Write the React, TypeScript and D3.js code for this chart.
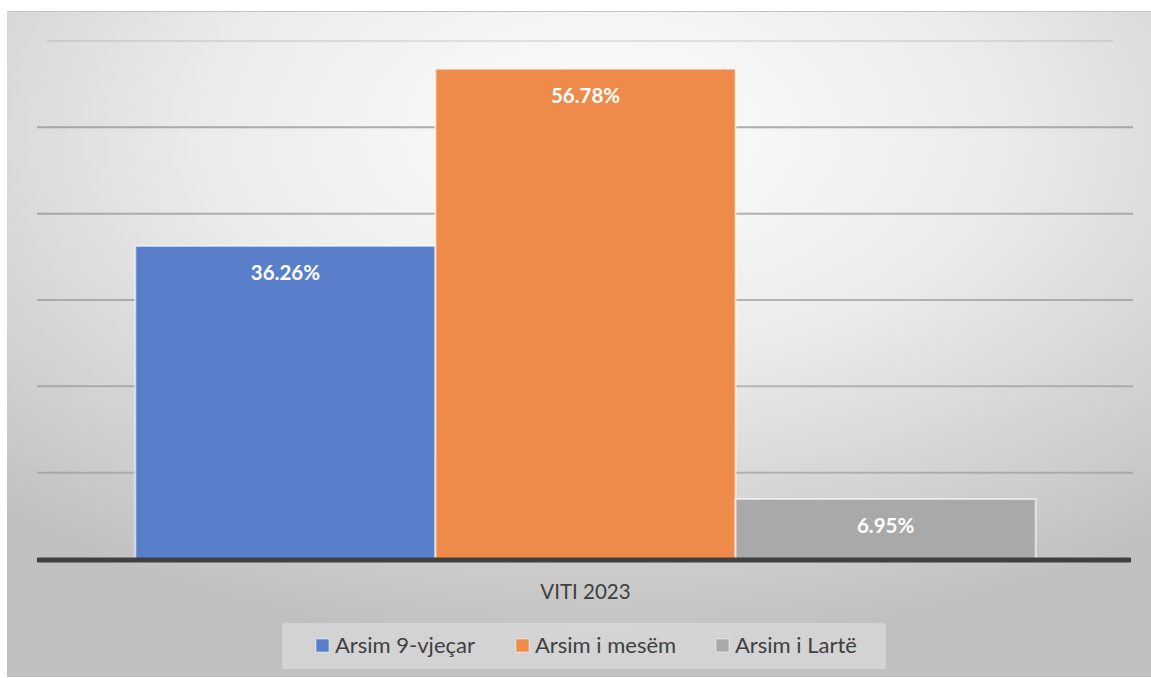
import * as d3 from 'd3';

const categories = ['VITI 2023'];
const seriesNames = ['Arsim 9-vjeçar', 'Arsim i mesëm', 'Arsim i Lartë'];
const seriesValues = [36.26, 56.78, 6.95];
const seriesColors = ['#5a7fca', '#ef8b4a', '#a9a9a9'];
const gridTicks = [10, 20, 30, 40, 50, 60];

const width = 1151;
const height = 678;
const margins = { top: 41, right: 20, bottom: 119, left: 37 };
const font = 'Lato, "Open Sans", "Liberation Sans", sans-serif';

const App = () => {
    const plotRight = width - margins.right;
    const plotBottom = height - margins.bottom;

    const yScale = d3.scaleLinear()
        .domain([0, 60])
        .range([plotBottom, margins.top]);

    const x0 = d3.scaleBand()
        .domain(categories)
        .range([margins.left + 2, plotRight + 1])
        .paddingInner(0)
        .paddingOuter(0.107);

    const x1 = d3.scaleBand()
        .domain(seriesNames)
        .range([0, x0.bandwidth()])
        .padding(0);

    const legendX = d3.scalePoint()
        .domain(seriesNames)
        .range([316, 716]);

    const data = seriesNames.map((name, i) => ({
        name,
        value: seriesValues[i],
        color: seriesColors[i],
        category: categories[0],
    }));

    return (
        <svg width={width} height={height} style={{ position: 'absolute', left: 0, top: 0 }}>
            <defs>
                <radialGradient id="bg" cx="0.52" cy="0.18" r="0.78" fx="0.52" fy="0.18">
                    <stop offset="0" stopColor="#fefefe" />
                    <stop offset="0.45" stopColor="#ebebeb" />
                    <stop offset="1" stopColor="#c0c0c0" />
                </radialGradient>
            </defs>
            <rect x={0} y={0} width={width} height={height} fill="#ffffff" />
            <rect x={7} y={11} width={width - 7} height={666} fill="url(#bg)" />
            <line x1={7} x2={width} y1={11.5} y2={11.5} stroke="#c4c4c4" strokeWidth={1} />

            {gridTicks.map((t, i) => (
                <line
                    key={t}
                    x1={t === 60 ? margins.left + 10 : margins.left}
                    x2={t === 60 ? plotRight - 18 : plotRight + 2}
                    y1={yScale(t)}
                    y2={yScale(t)}
                    stroke="#888888"
                    strokeOpacity={t === 60 ? 0.2 : 0.5 + i * 0.04}
                    strokeWidth={2}
                />
            ))}

            {data.map(d => (
                <rect
                    key={d.name}
                    x={(x0(d.category) ?? 0) + (x1(d.name) ?? 0)}
                    y={yScale(d.value)}
                    width={x1.bandwidth()}
                    height={plotBottom - yScale(d.value)}
                    fill={d.color}
                    stroke="#ffffff"
                    strokeOpacity={0.6}
                    strokeWidth={2}
                />
            ))}

            {data.map(d => (
                <text
                    key={d.name + '-label'}
                    x={(x0(d.category) ?? 0) + (x1(d.name) ?? 0) + x1.bandwidth() / 2}
                    y={yScale(d.value) + 34}
                    textAnchor="middle"
                    fill="#ffffff"
                    fontFamily={font}
                    fontWeight="bold"
                    fontSize={20.5}
                >
                    {d.value.toFixed(2) + '%'}
                </text>
            ))}

            <line
                x1={margins.left}
                x2={plotRight}
                y1={plotBottom + 1}
                y2={plotBottom + 1}
                stroke="#404040"
                strokeWidth={5}
            />

            {categories.map(c => (
                <text
                    key={c}
                    x={(x0(c) ?? 0) + x0.bandwidth() / 2}
                    y={599}
                    textAnchor="middle"
                    fill="#404040"
                    fontFamily={font}
                    fontSize={20.5}
                >
                    {c}
                </text>
            ))}

            <rect x={282} y={623} width={604} height={46} fill="#ffffff" fillOpacity={0.3} />
            {data.map(d => (
                <g key={d.name + '-legend'} transform={`translate(${legendX(d.name)}, 0)`}>
                    <rect x={0} y={639} width={13} height={13} fill={d.color} stroke="#ffffff" strokeOpacity={0.5} />
                    <text x={19} y={653} fill="#404040" fontFamily={font} fontSize={22}>
                        {d.name}
                    </text>
                </g>
            ))}
        </svg>
    );
};

export default App;
